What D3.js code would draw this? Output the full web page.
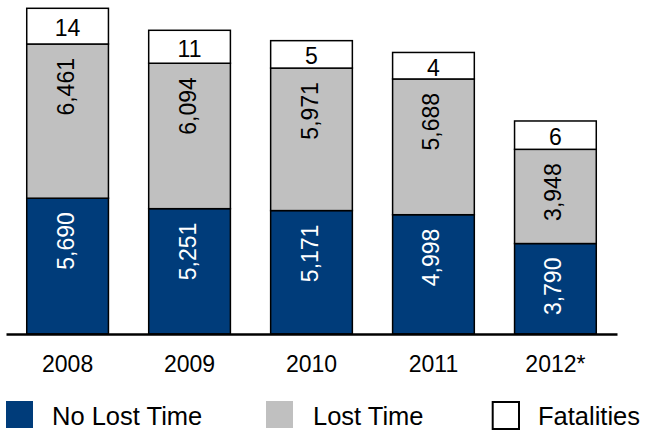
<!DOCTYPE html>
<html>
<head>
<meta charset="utf-8">
<script src="https://cdn.jsdelivr.net/npm/d3@7"></script>
<style>
  body { margin: 0; background: #fff; }
  text { font-family: "Liberation Sans", Arial, sans-serif; }
</style>
</head>
<body>
<div id="chart"></div>
<script>
(function()
{
    var width = 645;
    var height = 431;

    // data
    var years = ["2008", "2009", "2010", "2011", "2012*"];
    var noLostTime = [5690, 5251, 5171, 4998, 3790];
    var lostTime = [6461, 6094, 5971, 5688, 3948];
    var fatalities = [14, 11, 5, 4, 6];
    var legendLabels = ["No Lost Time", "Lost Time", "Fatalities"];

    var blue = "#003c7a";
    var grey = "#c0c0c0";
    var fmt = d3.format(",");

    var svg = d3.select("#chart")
        .append("svg")
        .attr("width", width)
        .attr("height", height);

    var baseY = 334;

    var x = d3.scaleBand()
        .domain(years)
        .range([6, 617])
        .paddingInner(0.33)
        .paddingOuter(0.17);

    var y = d3.scaleLinear()
        .domain([0, 12151])
        .range([baseY, 44]);

    // fatality boxes are not to scale in the original, small box per count
    var fatH = d3.scaleLinear()
        .domain([4, 14])
        .range([26.5, 35.7]);

    var rows = years.map(function(yr, i) {
        return {year: yr, nlt: noLostTime[i], lt: lostTime[i], fat: fatalities[i]};
    });

    var bars = svg.selectAll(".bar").data(rows)
        .enter().append("g")
        .attr("class", "bar")
        .attr("transform", function(d){ return "translate(" + x(d.year) + ",0)"; });

    var bw = x.bandwidth();

    // no lost time
    bars.append("rect")
        .attr("x", 0)
        .attr("width", bw)
        .attr("y", function(d){ return y(d.nlt); })
        .attr("height", function(d){ return baseY - y(d.nlt); })
        .attr("fill", blue)
        .attr("stroke", "#000")
        .attr("stroke-width", 1.5);

    // lost time
    bars.append("rect")
        .attr("x", 0)
        .attr("width", bw)
        .attr("y", function(d){ return y(d.nlt + d.lt); })
        .attr("height", function(d){ return y(d.nlt) - y(d.nlt + d.lt); })
        .attr("fill", grey)
        .attr("stroke", "#000")
        .attr("stroke-width", 1.5);

    // fatalities
    bars.append("rect")
        .attr("x", 0)
        .attr("width", bw)
        .attr("y", function(d){ return y(d.nlt + d.lt) - fatH(d.fat); })
        .attr("height", function(d){ return fatH(d.fat); })
        .attr("fill", "#fff")
        .attr("stroke", "#000")
        .attr("stroke-width", 1.5);

    var fs = 23;
    var labLen = 2.5 * fs;
    function labelPos(top, bottom) {
        var c = (top + bottom) / 2;
        return Math.min(top + 14 + labLen / 2, c) - labLen / 2;
    }

    // rotated labels
    function rotLabel(sel, topFn, botFn, valFn, col) {
        sel.append("text")
            .attr("transform", function(d){
                return "translate(" + (bw / 2 + 6) + "," + labelPos(topFn(d), botFn(d)) + ") rotate(-90)";
            })
            .attr("text-anchor", "end")
            .attr("font-size", fs)
            .attr("fill", col)
            .text(function(d){ return fmt(valFn(d)); });
    }

    rotLabel(bars, function(d){ return y(d.nlt); }, function(){ return baseY; },
        function(d){ return d.nlt; }, "#fff");
    rotLabel(bars, function(d){ return y(d.nlt + d.lt); }, function(d){ return y(d.nlt); },
        function(d){ return d.lt; }, "#000");

    bars.append("text")
        .attr("x", bw / 2)
        .attr("y", function(d){ return y(d.nlt + d.lt) - fatH(d.fat) / 2 + 10; })
        .attr("text-anchor", "middle")
        .attr("font-size", fs)
        .attr("fill", "#000")
        .text(function(d){ return d.fat; });

    //axis with just the baseline and year labels
    var axis = d3.axisBottom(x).tickSize(0).tickPadding(0);
    var g = svg.append("g").attr("transform", "translate(0," + baseY + ")").call(axis);
    g.select(".domain").attr("stroke", "#000").attr("stroke-width", 2.5);
    g.selectAll("text")
        .attr("font-family", "Liberation Sans, Arial, sans-serif")
        .attr("font-size", fs)
        .attr("fill", "#000")
        .attr("dy", null)
        .attr("y", 37.5);

    // legend
    var legX = [6, 266, 492.7];
    var legTextX = [52, 313, 538];
    var legFill = [blue, grey, "#fff"];
    var leg = svg.selectAll(".leg").data(legendLabels)
        .enter().append("g").attr("class", "leg");

    leg.append("rect")
        .attr("x", function(d, i){ return legX[i]; })
        .attr("y", function(d, i){ return i == 2 ? 402 : 401; })
        .attr("width", function(d, i){ return i == 2 ? 26.3 : 27; })
        .attr("height", 27)
        .attr("fill", function(d, i){ return legFill[i]; })
        .attr("stroke", function(d, i){ return i == 2 ? "#000" : "none"; })
        .attr("stroke-width", 2);

    leg.append("text")
        .attr("x", function(d, i){ return legTextX[i]; })
        .attr("y", 425.3)
        .attr("font-size", 25.5)
        .attr("fill", "#000")
        .text(function(d){ return d; });

})();
</script>
</body>
</html>
